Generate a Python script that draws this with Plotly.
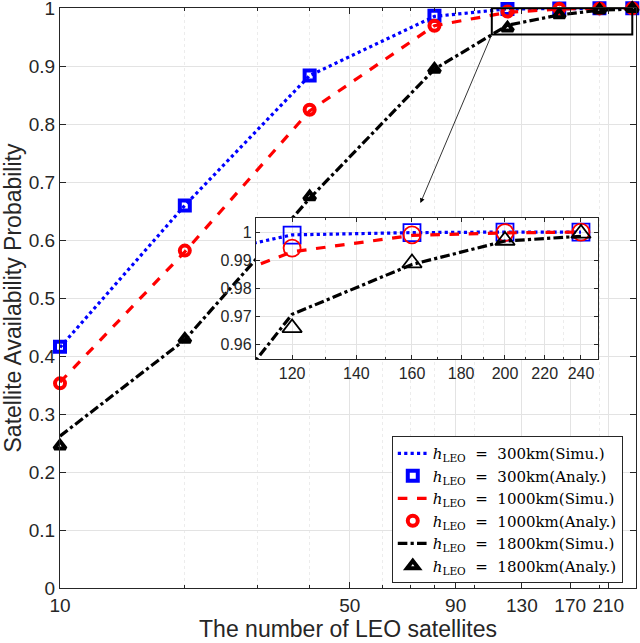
import numpy as np
import plotly.graph_objects as go

# ================================
# data
# ================================
n_sat = [10, 20, 40, 80, 120, 160, 200, 240]

p300_simu = [0.415, 0.660, 0.884, 0.986, 0.9990, 0.9998, 1.0, 1.0]
p300_analy = [0.416, 0.660, 0.884, 0.987, 0.9989, 0.9998, 1.0, 1.0]
p1000_simu = [0.355, 0.580, 0.823, 0.970, 0.9930, 0.9988, 0.9997, 1.0]
p1000_analy = [0.353, 0.582, 0.825, 0.970, 0.9943, 0.9990, 0.9998, 1.0]
p1800_simu = [0.262, 0.428, 0.672, 0.895, 0.9708, 0.9885, 0.9968, 0.9985]
p1800_analy = [0.245, 0.429, 0.675, 0.895, 0.9660, 0.9890, 0.9970, 0.9995]

x_ticks = [10, 50, 90, 130, 170, 210]
x_minor = [20, 30, 40, 60, 70, 80, 100, 200]
y_ticks = [0, 0.1, 0.2, 0.3, 0.4, 0.5, 0.6, 0.7, 0.8, 0.9, 1]
y_ticktext = ['0', '0.1', '0.2', '0.3', '0.4', '0.5', '0.6', '0.7', '0.8', '0.9', '1']

inset_x_ticks = [120, 140, 160, 180, 200, 220, 240]
inset_x_minor = [110, 130, 150, 170, 190, 210, 230, 250]
inset_y_ticks = [0.96, 0.97, 0.98, 0.99, 1.0]
inset_y_ticktext = ['0.96', '0.97', '0.98', '0.99', '1']

series = [
    ('300km', p300_simu, p300_analy, '#0000ff', 'dot', 'square-open'),
    ('1000km', p1000_simu, p1000_analy, '#ff0000', 'dash', 'circle-open'),
    ('1800km', p1800_simu, p1800_analy, '#000000', 'dashdot', 'triangle-up-open'),
]

AX = '#262626'
GRID = '#e3e3e3'
SANS = 'Liberation Sans, Arial, sans-serif'

fig = go.Figure()

for h, simu, analy, col, dash, sym in series:
    lab = '<i>h</i><sub>LEO</sub>  =  ' + h
    fig.add_trace(go.Scatter(x=n_sat, y=simu, mode='lines', name=lab + '(Simu.)',
                             line=dict(color=col, width=3.2, dash=dash)))
    fig.add_trace(go.Scatter(x=n_sat, y=analy, mode='markers', name=lab + '(Analy.)',
                             cliponaxis=False,
                             marker=dict(symbol=sym, color=col, size=10,
                                         line=dict(color=col, width=4))))

# inset traces
for h, simu, analy, col, dash, sym in series:
    fig.add_trace(go.Scatter(x=n_sat, y=simu, mode='lines', showlegend=False,
                             xaxis='x2', yaxis='y2',
                             line=dict(color=col, width=3.2, dash=dash)))
    fig.add_trace(go.Scatter(x=n_sat, y=analy, mode='markers', showlegend=False,
                             xaxis='x2', yaxis='y2',
                             marker=dict(symbol=sym, color=col, size=17,
                                         line=dict(color=col, width=1.8))))

fig.update_layout(
    width=640, height=643,
    margin=dict(l=60, r=4, t=8, b=55, autoexpand=False),
    plot_bgcolor='white', paper_bgcolor='white',
    font=dict(family=SANS, color=AX),
    xaxis=dict(type='log', range=[1, np.log10(245)], domain=[0, 1],
               tickvals=x_ticks, ticktext=[str(v) for v in x_ticks],
               tickfont=dict(size=19), ticks='inside', ticklen=6, tickcolor=AX,
               showline=True, linecolor=AX, mirror='ticks', linewidth=1,
               showgrid=True, gridcolor=GRID, zeroline=False, automargin=False,
               ticklabeloverflow='allow',
               minor=dict(tickvals=x_minor, ticks='inside', ticklen=3, tickcolor=AX,
                          showgrid=True, gridcolor='#ececec', griddash='dot'),
               title=dict(text='The number of LEO satellites', font=dict(size=23), standoff=2)),
    yaxis=dict(range=[0, 1.0005], domain=[0, 1], tickvals=y_ticks, ticktext=y_ticktext,
               tickfont=dict(size=19), ticks='inside', ticklen=6, tickcolor=AX,
               showline=True, linecolor=AX, mirror='ticks', linewidth=1,
               showgrid=True, gridcolor=GRID, zeroline=False, automargin=False,
               ticklabeloverflow='allow',
               title=dict(text='Satellite Availability Probability', font=dict(size=23), standoff=4)),
    xaxis2=dict(type='log', range=[np.log10(110), np.log10(250)], domain=[0.340, 0.934],
                anchor='y2', tickvals=inset_x_ticks, ticktext=[str(v) for v in inset_x_ticks],
                tickfont=dict(size=16), ticks='inside', ticklen=4, tickcolor=AX,
                showline=True, linecolor=AX, mirror='ticks', linewidth=1,
                showgrid=True, gridcolor=GRID, zeroline=False, automargin=False,
                minor=dict(tickvals=inset_x_minor, ticks='inside', ticklen=2, tickcolor=AX,
                           showgrid=True, gridcolor='#ececec', griddash='dot')),
    yaxis2=dict(range=[0.955, 1.005], domain=[0.395, 0.638], anchor='x2',
                tickvals=inset_y_ticks, ticktext=inset_y_ticktext,
                tickfont=dict(size=16), ticks='inside', ticklen=4, tickcolor=AX,
                showline=True, linecolor=AX, mirror='ticks', linewidth=1,
                showgrid=True, gridcolor=GRID, zeroline=False, automargin=False),
    legend=dict(x=0.576, y=0.262, xanchor='left', yanchor='top',
                bgcolor='white', bordercolor=AX, borderwidth=1,
                font=dict(family='DejaVu Serif, serif', size=15, color='black'),
                tracegroupgap=0, itemwidth=30),
)

# zoom box and arrow
fig.add_shape(type='rect', xref='x', yref='y', x0=110, x1=240, y0=0.955, y1=1.0,
              line=dict(color='black', width=2))
fig.add_annotation(x=np.log10(74), y=0.664, ax=np.log10(110), ay=0.955,
                   xref='x', yref='y', axref='x', ayref='y', text='',
                   showarrow=True, arrowhead=2, arrowsize=1.2, arrowwidth=0.8, arrowcolor='black')

# drop the browser's default body margin so the figure sits at 0,0
fig.write_html("out.html", config={'displayModeBar': False},
               post_script="document.body.style.margin='0';")
